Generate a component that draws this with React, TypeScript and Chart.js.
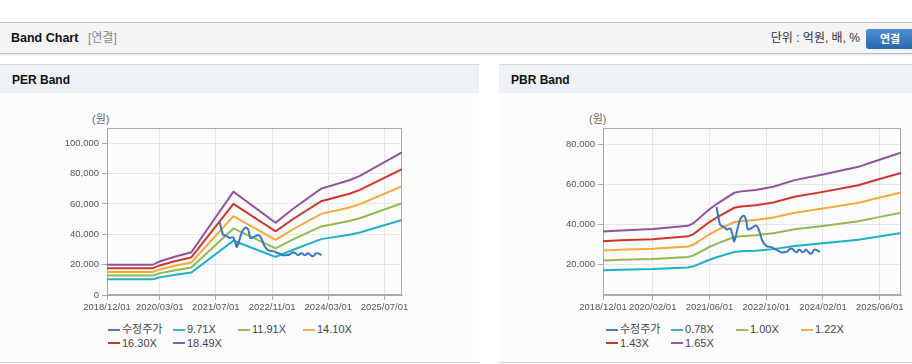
import React, { useEffect, useRef } from 'react';
import { Chart, registerables } from 'chart.js';

Chart.register(...registerables);

const FONT = "'Liberation Sans', Arial, 'Noto Sans CJK KR', sans-serif";

// ---------- shared price series (수정주가), x = months since 2018/12 ----------
const priceMonths = [32.0, 32.4, 33.0, 33.6, 34.2, 34.9, 35.5, 36.0, 36.5, 36.9, 37.4, 38.0, 38.6, 39.3, 39.8, 40.3, 40.8, 41.4, 42.2, 43.0, 43.6, 44.2, 44.8, 45.4, 46.2, 47.2, 48.1, 49.2, 50.2, 51.2, 51.9, 52.6, 53.3, 54.0, 54.5, 55.2, 55.7, 56.2, 56.8, 57.2, 57.8, 58.5, 59.0, 59.5, 60.2, 60.7, 61.1];
const priceValues = [48800, 45000, 40000, 39200, 38600, 37500, 38000, 37800, 35000, 31600, 34000, 38500, 42300, 44200, 44300, 42500, 37600, 37800, 38600, 39600, 38800, 36000, 32500, 30500, 29200, 28900, 28200, 27200, 26200, 26300, 26500, 27800, 28000, 26800, 26200, 27500, 27200, 26200, 26800, 27600, 26600, 25500, 26000, 27500, 27400, 26800, 26300];

// ---------- PER band ----------
const perTickMonths = [0, 15, 31, 47, 63, 79];
const perTickLabels = ['2018/12/01', '2020/03/01', '2021/07/01', '2022/11/01', '2024/03/01', '2025/07/01'];
const perYTicks = [0, 20000, 40000, 60000, 80000, 100000];
const perBandMonths = [0, 13, 15, 19, 24, 36, 48, 53, 61, 69, 72, 84];
const per971 = [10450, 10450, 11610, 13130, 14760, 35760, 25000, 29830, 36810, 39700, 41220, 49360];
const per1191 = [12820, 12820, 14240, 16100, 18100, 43870, 30660, 36590, 45150, 48700, 50570, 60550];
const per1410 = [15180, 15180, 16850, 19070, 21430, 51930, 36300, 43310, 53460, 57650, 59860, 71680];
const per1630 = [17540, 17540, 19480, 22040, 24770, 60040, 41960, 50070, 61800, 66650, 69200, 82870];
const per1849 = [19900, 19900, 22100, 25000, 28100, 68100, 47600, 56800, 70100, 75600, 78500, 94000];
const perLabels = ['수정주가', '9.71X', '11.91X', '14.10X', '16.30X', '18.49X'];

// ---------- PBR band ----------
const pbrTickMonths = [0, 14, 30, 46, 62, 78];
const pbrTickLabels = ['2018/12/01', '2020/02/01', '2021/06/01', '2022/10/01', '2024/02/01', '2025/06/01'];
const pbrYTicks = [20000, 40000, 60000, 80000];
const pbrBandMonths = [0, 5, 14, 24, 25.5, 30, 32, 37, 39, 43, 48, 54, 62, 72, 76, 84];
const pbr078 = [17300, 17540, 17870, 18630, 19240, 22500, 23730, 26380, 26710, 27040, 27800, 29360, 30680, 32480, 33610, 35790];
const pbr100 = [22180, 22490, 22910, 23880, 24670, 28850, 30420, 33820, 34240, 34670, 35640, 37640, 39330, 41640, 43090, 45880];
const pbr122 = [27060, 27430, 27950, 29130, 30090, 35190, 37120, 41260, 41780, 42290, 43480, 45920, 47990, 50800, 52570, 55970];
const pbr143 = [31720, 32150, 32760, 34150, 35270, 41250, 43510, 48360, 48970, 49570, 50960, 53820, 56250, 59540, 61620, 65610];
const pbr165 = [36600, 37100, 37800, 39400, 40700, 47600, 50200, 55800, 56500, 57200, 58800, 62100, 64900, 68700, 71100, 75700];
const pbrLabels = ['수정주가', '0.78X', '1.00X', '1.22X', '1.43X', '1.65X'];

const COLORS = ['#3a77c6', '#1db1c8', '#8fbb4f', '#f5a93a', '#d0352c', '#93519e'];
const LEGEND_COLORS = ['#4a7cc0', '#3bb5c5', '#9bbb59', '#f0b24b', '#c0392b', '#8e5ea2'];

const pts = (xs: number[], ys: number[]) => xs.map((x, i) => ({ x, y: ys[i] }));

const boxPlugin = {
  id: 'plotBox',
  beforeDatasetsDraw(chart: any) {
    const { ctx, chartArea } = chart;
    const l = Math.round(chartArea.left) + 0.5;
    const t = Math.round(chartArea.top) + 0.5;
    const r = Math.round(chartArea.right) - 0.5;
    const b = Math.round(chartArea.bottom) - 0.5;
    ctx.save();
    ctx.strokeStyle = '#aaaaaa';
    ctx.lineWidth = 1;
    ctx.strokeRect(l, t, r - l, b - t);
    ctx.restore();
  },
};

type BandProps = {
  left: number;
  width: number;
  yWidth: number;
  padRight: number;
  yMin: number;
  yMax: number;
  yTicks: number[];
  tickMonths: number[];
  tickLabels: string[];
  bandMonths: number[];
  bands: number[][];
  labels: string[];
};

function BandCanvas(p: BandProps) {
  const ref = useRef<HTMLCanvasElement | null>(null);
  useEffect(() => {
    if (!ref.current) return;
    const datasets: any[] = [
      {
        label: p.labels[0],
        data: pts(priceMonths, priceValues),
        borderColor: COLORS[0],
        backgroundColor: COLORS[0],
        borderWidth: 2,
        pointRadius: 0,
        tension: 0.25,
      },
      ...p.bands.map((vals, i) => ({
        label: p.labels[i + 1],
        data: pts(p.bandMonths, vals),
        borderColor: COLORS[i + 1],
        backgroundColor: COLORS[i + 1],
        borderWidth: 2,
        pointRadius: 0,
        tension: 0,
      })),
    ];
    const tickFont = { size: 9.5, family: FONT };
    const chart = new Chart(ref.current, {
      type: 'line',
      data: { datasets },
      options: {
        animation: false,
        responsive: false,
        maintainAspectRatio: false,
        layout: { padding: { left: 0, top: 8, right: p.padRight, bottom: 0 } },
        plugins: { legend: { display: false }, tooltip: { enabled: false } },
        scales: {
          x: {
            type: 'linear',
            min: 0,
            max: 84,
            afterBuildTicks: (axis: any) => {
              axis.ticks = p.tickMonths.map((v) => ({ value: v }));
            },
            afterFit: (axis: any) => {
              axis.height = 25;
              axis.paddingLeft = 0;
              axis.paddingRight = 0;
            },
            ticks: {
              autoSkip: false,
              maxRotation: 0,
              minRotation: 0,
              padding: 2,
              color: '#555555',
              font: tickFont,
              callback: (_v: any, i: number) => p.tickLabels[i] ?? '',
            },
            grid: { color: '#e6e6e6', tickColor: '#aaaaaa', tickLength: 5 },
            border: { color: '#aaaaaa' },
          },
          y: {
            type: 'linear',
            min: p.yMin,
            max: p.yMax,
            afterBuildTicks: (axis: any) => {
              axis.ticks = p.yTicks.map((v) => ({ value: v }));
            },
            afterFit: (axis: any) => {
              axis.width = p.yWidth;
              axis.paddingTop = 0;
              axis.paddingBottom = 0;
            },
            ticks: {
              padding: 3,
              color: '#555555',
              font: tickFont,
              callback: (v: any) => Number(v).toLocaleString('en-US'),
            },
            grid: { color: '#e6e6e6', tickColor: '#aaaaaa', tickLength: 5 },
            border: { color: '#aaaaaa' },
          },
        },
      } as any,
      plugins: [boxPlugin],
    });
    return () => chart.destroy();
  }, []);
  return (
    <canvas
      ref={ref}
      width={p.width}
      height={200}
      style={{ position: 'absolute', left: p.left, top: 120, width: p.width, height: 200 }}
    />
  );
}

function Legend({ left, labels }: { left: number; labels: string[] }) {
  return (
    <div
      style={{
        position: 'absolute',
        left,
        top: 323,
        width: 264,
        display: 'flex',
        flexWrap: 'wrap',
        fontSize: 11,
        lineHeight: '13.5px',
        color: '#444',
        fontFamily: FONT,
      }}
    >
      {labels.map((l, i) => (
        <div key={l} style={{ width: 65, display: 'flex', alignItems: 'center', whiteSpace: 'nowrap' }}>
          <span style={{ display: 'inline-block', width: 12, height: 2, background: LEGEND_COLORS[i], marginRight: 2 }} />
          <span>{l}</span>
        </div>
      ))}
    </div>
  );
}

function Panel({ left, width, title }: { left: number; width: number; title: string }) {
  return (
    <div
      style={{
        position: 'absolute',
        left,
        top: 64,
        width,
        height: 299,
        boxSizing: 'border-box',
        borderTop: '1px solid #d9d9d9',
        borderBottom: '1px solid #cfcfcf',
        background: '#fcfcfc',
      }}
    >
      <div
        style={{
          height: 28,
          background: '#eef2f7',
          fontWeight: 'bold',
          fontSize: 12,
          lineHeight: '30px',
          paddingLeft: 12,
          color: '#111',
        }}
      >
        {title}
      </div>
    </div>
  );
}

export default function App() {
  return (
    <div
      style={{
        position: 'absolute',
        left: 0,
        top: 0,
        width: 912,
        height: 364,
        overflow: 'hidden',
        background: '#ffffff',
        fontFamily: FONT,
      }}
    >
      {/* header bar */}
      <div
        style={{
          position: 'absolute',
          left: 0,
          top: 22,
          width: 912,
          height: 32,
          boxSizing: 'border-box',
          borderTop: '1px solid #bcbcbc',
          borderBottom: '1px solid #bdbdbd',
          background: '#f4f4f4',
          boxShadow: '0 1px 2px rgba(0,0,0,0.12)',
        }}
      >
        <span style={{ position: 'absolute', left: 11, top: 0, lineHeight: '30px', fontSize: 12.5, fontWeight: 'bold', color: '#111' }}>
          Band Chart
        </span>
        <span style={{ position: 'absolute', left: 88, top: 0, lineHeight: '30px', fontSize: 12, color: '#888' }}>[연결]</span>
        <span style={{ position: 'absolute', right: 52, top: 0, lineHeight: '30px', fontSize: 12, color: '#333' }}>
          단위 : 억원, 배, %
        </span>
        <div
          style={{
            position: 'absolute',
            left: 866,
            top: 6,
            width: 48,
            height: 20,
            borderRadius: 3,
            background: 'linear-gradient(#4d8fd3, #2a68b0)',
            color: '#fff',
            fontWeight: 'bold',
            fontSize: 11,
            lineHeight: '20px',
            textAlign: 'center',
          }}
        >
          연결
        </div>
      </div>

      <Panel left={0} width={479} title="PER Band" />
      <Panel left={499} width={413} title="PBR Band" />

      <span style={{ position: 'absolute', left: 92, top: 110, fontSize: 11, color: '#666' }}>(원)</span>
      <span style={{ position: 'absolute', left: 589, top: 110, fontSize: 11, color: '#666' }}>(원)</span>

      <BandCanvas
        left={0}
        width={479}
        yWidth={107}
        padRight={77}
        yMin={0}
        yMax={110000}
        yTicks={perYTicks}
        tickMonths={perTickMonths}
        tickLabels={perTickLabels}
        bandMonths={perBandMonths}
        bands={[per971, per1191, per1410, per1630, per1849]}
        labels={perLabels}
      />
      <BandCanvas
        left={499}
        width={413}
        yWidth={104}
        padRight={11}
        yMin={5000}
        yMax={88000}
        yTicks={pbrYTicks}
        tickMonths={pbrTickMonths}
        tickLabels={pbrTickLabels}
        bandMonths={pbrBandMonths}
        bands={[pbr078, pbr100, pbr122, pbr143, pbr165]}
        labels={pbrLabels}
      />

      <Legend left={108} labels={perLabels} />
      <Legend left={606} labels={pbrLabels} />
    </div>
  );
}
